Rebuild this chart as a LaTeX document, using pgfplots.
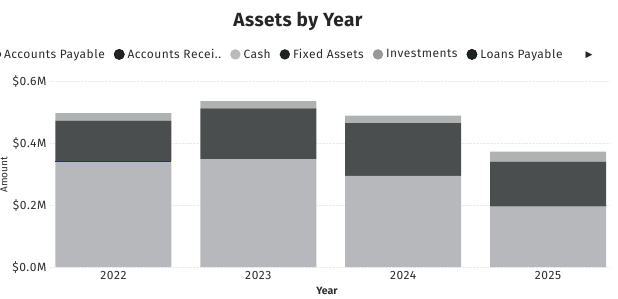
\documentclass[border=0pt]{standalone}
\usepackage{pgfplots}
\pgfplotsset{compat=1.18}
\usepackage{pgfplotstable}
\usepackage{fontspec}
\setmainfont{Fira Sans}
\newfontfamily\symfont{DejaVu Sans}
\newfontfamily\spfont[LetterSpace=5]{Fira Sans}
\newfontfamily\lgfont[LetterSpace=4]{Fira Sans}
\definecolor{cashc}{RGB}{182,184,187}
\definecolor{fixedc}{RGB}{74,78,78}
\definecolor{invc}{RGB}{176,178,178}
\definecolor{arc}{RGB}{40,50,110}
\definecolor{txt}{RGB}{45,45,45}
\definecolor{mkdark}{RGB}{30,36,34}
\definecolor{mkmid}{RGB}{150,152,152}
\definecolor{mklight}{RGB}{185,187,187}
\pgfplotstableread{
x cash ar fixed inv
0 0.338 0.003 0.131 0.024
1 0.348 0.000 0.164 0.023
2 0.294 0.000 0.170 0.024
3 0.195 0.000 0.145 0.032
}\datatab
\begin{document}
\begin{tikzpicture}[x=1pt,y=1pt]
\path[use as bounding box] (0,0) rectangle (618,298);
\begin{axis}[
  at={(50pt,31pt)}, anchor=south west,
  scale only axis, width=560pt, height=186pt,
  ybar stacked, bar width=116pt,
  xmin=-0.438, xmax=3.428, ymin=0, ymax=0.6,
  xtick={0,1,2,3}, xticklabels={2022,2023,2024,2025},
  ytick={0,0.2,0.4,0.6},
  yticklabels={\$0.0M,\$0.2M,\$0.4M,\$0.6M},
  axis line style={draw=none}, tick style={draw=none},
  ymajorgrids, grid style={densely dotted, color=black!8},
  tick label style={font=\spfont\fontsize{12}{14}\selectfont, text=txt},
  xticklabel style={yshift=-1pt},
  yticklabel style={xshift=0pt},
  legend columns=-1,
  legend style={draw=none, fill=none, at={(-0.107,1.143)}, anchor=west,
     font=\lgfont\fontsize{12}{14}\selectfont, text=txt, inner sep=0pt,
     /tikz/every odd column/.append style={column sep=1pt},
     /tikz/every even column/.append style={column sep=7pt}},
  legend image code/.code={\fill[#1] (0.35em,0) circle (5.2pt);},
  clip=false,
]
\addlegendimage{fill=mkdark!80}
\addlegendentry{Accounts Payable}
\addlegendimage{fill=mkdark}
\addlegendentry{Accounts Recei..}
\addplot[fill=cashc, draw=none, area legend, legend image code/.code={\fill[mklight] (0.35em,0) circle (5.2pt);}] table[x=x, y=cash] {\datatab};
\addlegendentry{Cash}
\addplot[fill=arc, draw=none, forget plot] table[x=x, y=ar] {\datatab};
\addplot[fill=fixedc, draw=none, legend image code/.code={\fill[mkdark] (0.35em,0) circle (5.2pt);}] table[x=x, y=fixed] {\datatab};
\addlegendentry{Fixed Assets}
\addplot[fill=invc, draw=none, legend image code/.code={\fill[mkmid] (0.35em,0) circle (5.2pt);}] table[x=x, y=inv] {\datatab};
\addlegendentry{Investments}
\addlegendimage{fill=mkdark}
\addlegendentry{Loans Payable}
\end{axis}
\node[font=\bfseries\fontsize{19}{22}\selectfont, text=black!85] at (298,277) {\addfontfeatures{LetterSpace=2}Assets by Year};
\node[text=black!85, font=\symfont\fontsize{9}{10}\selectfont] at (589,243) {▶};
\node[rotate=90, font=\fontsize{10}{12}\selectfont, text=txt] at (4,123) {Amount};
\node[font=\bfseries\fontsize{10.5}{12}\selectfont, text=txt] at (327,7) {Year};
\end{tikzpicture}
\end{document}
